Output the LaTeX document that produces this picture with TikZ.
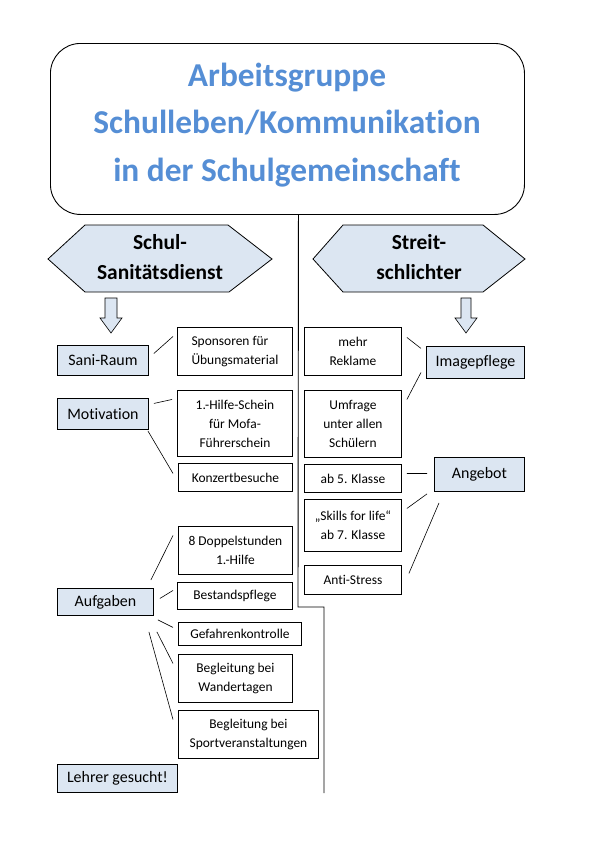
\documentclass[tikz,border=0pt]{standalone}
\usepackage{fontspec}
\setmainfont[Ligatures=NoCommon]{Carlito}
\definecolor{boxfill}{HTML}{DCE6F2}
\definecolor{titleblue}{HTML}{558ED5}
\tikzset{
  box/.style={draw, line width=0.9bp, inner sep=0pt, anchor=north west, align=center,
    font=\fontsize{13.5}{19}\selectfont},
  hl/.style={box, fill=boxfill, font=\fontsize{16}{19}\selectfont},
  conn/.style={line width=0.6bp},
  hexa/.style={draw, line width=0.8bp, fill=boxfill},
  hextext/.style={align=center, font=\bfseries\fontsize{21.5}{30}\selectfont},
  blockarrow/.style={draw, line width=0.6bp, fill=boxfill},
  spine/.style={line width=0.9bp},
}
\begin{document}
\begin{tikzpicture}[x=1bp,y=-1bp]
\useasboundingbox (0,0) rectangle (595,842);
% title
\node[draw, line width=0.9bp, rounded corners=30bp, anchor=north west, minimum width=474bp, minimum height=171bp,
  inner sep=0pt] (title) at (50,43) {};
\node[align=center, text=titleblue, font=\bfseries\fontsize{33.5}{47.5}\selectfont] (titletext) at (287,125)
  {Arbeitsgruppe\\Schulleben/Kommunikation\\in der Schulgemeinschaft};
% spine
\coordinate (vstep) at (298,607);
\coordinate (vend) at (324,793);
\draw[spine] ([xshift=11bp]title.south) -- (vstep) -- (vstep -| vend) -- (vend);
% hexagons
\draw[hexa] (48,259) -- (85,225) -- (228,225) -- (272,259) -- (229,292) -- (85,292) -- cycle;
\node[hextext] (sani) at (160,257) {Schul-\\Sanitätsdienst};
\draw[hexa] (313,259) -- (343,225) -- (483,225) -- (525,259) -- (483,292) -- (343,292) -- cycle;
\node[hextext] (streit) at (419,257) {Streit-\\schlichter};
% block arrows
\draw[blockarrow] (105,298) -- (117,298) -- (117,318) -- (122,318) -- (111,333) -- (100,318) -- (105,318) -- cycle;
\draw[blockarrow] (461,298) -- (471,298) -- (471,318) -- (477,318) -- (466,333) -- (455,318) -- (461,318) -- cycle;
% left column
\node[hl, minimum width=91bp, minimum height=30bp] (saniraum) at (57,345) {Sani-Raum};
\node[hl, minimum width=91bp, minimum height=31bp] (motiv) at (57,398) {Motivation};
\node[box, minimum width=115bp, minimum height=48bp, align=left] (spons) at (177,327) {Sponsoren für\\Übungsmaterial};
\node[box, minimum width=115bp, minimum height=66bp] (hilfe) at (177,390) {1.-Hilfe-Schein\\für Mofa-\\Führerschein};
\node[box, minimum width=114bp, minimum height=28bp] (konz) at (178,463) {Konzertbesuche};
\draw[conn] ([shift={(5,-7)}]saniraum.east) -- ([shift={(-4,-15)}]spons.west);
\draw[conn] ([shift={(5,-10.5)}]motiv.east) -- ([shift={(-5,-24)}]hilfe.west);
\draw[conn] ([shift={(-1,1)}]motiv.south east) -- ([shift={(-5,-4)}]konz.west);
% right column
\node[box, minimum width=97bp, minimum height=48bp] (reklame) at (304,327) {mehr\\Reklame};
\node[hl, minimum width=98bp, minimum height=32bp] (image) at (426,346) {Imagepflege};
\node[box, minimum width=97bp, minimum height=67bp] (umfrage) at (304,390) {Umfrage\\unter allen\\Schülern};
\node[box, minimum width=97bp, minimum height=28bp] (ab5) at (304,464) {ab 5. Klasse};
\node[hl, minimum width=90bp, minimum height=34bp] (angebot) at (434,457) {Angebot};
\node[box, minimum width=97bp, minimum height=52bp] (skills) at (304,499) {„Skills for life“\\ab 7. Klasse};
\node[box, minimum width=97bp, minimum height=29bp] (anti) at (304,565) {Anti-Stress};
\draw[conn] ([shift={(5,-14)}]reklame.east) -- ([shift={(-5,-14)}]image.west);
\draw[conn] ([shift={(5,-24.5)}]umfrage.east) -- ([shift={(-5,10)}]image.west);
\draw[conn] ([shift={(5,-5)}]ab5.east) -- ([shift={(-7,-1)}]angebot.west);
\draw[conn] ([shift={(5,-17)}]skills.east) -- ([shift={(-7,2)}]angebot.south west);
\draw[conn] ([shift={(7,-6.5)}]anti.east) -- ([shift={(5,11)}]angebot.south west);
% lower left
\node[hl, minimum width=96bp, minimum height=27bp] (auf) at (57,588) {Aufgaben};
\node[box, minimum width=114bp, minimum height=48bp] (doppel) at (178,526) {8 Doppelstunden\\1.-Hilfe};
\node[box, minimum width=115bp, minimum height=27bp] (bestand) at (177,582) {Bestandspflege};
\node[box, minimum width=123bp, minimum height=23bp] (gefahr) at (178,622) {Gefahrenkontrolle};
\node[box, minimum width=114bp, minimum height=48bp] (wander) at (178,654) {Begleitung bei\\Wandertagen};
\node[box, minimum width=140bp, minimum height=48bp] (sport) at (178,710) {Begleitung bei\\Sportveranstaltungen};
\node[hl, minimum width=120bp, minimum height=28bp] (lehrer) at (57,764) {Lehrer gesucht!};
\draw[conn] ([shift={(-3,-8)}]auf.north east) -- ([shift={(-5,-15)}]doppel.west);
\draw[conn] ([shift={(6,-3.5)}]auf.east) -- ([shift={(-4,-5.5)}]bestand.west);
\draw[conn] ([shift={(4,4)}]auf.south east) -- ([shift={(-5,-6.5)}]gefahr.west);
\draw[conn] ([shift={(3,16)}]auf.south east) -- ([shift={(-5,-15)}]wander.west);
\draw[conn] ([shift={(-5,16)}]auf.south east) -- ([shift={(-5,-15)}]sport.west);
\end{tikzpicture}
\end{document}
